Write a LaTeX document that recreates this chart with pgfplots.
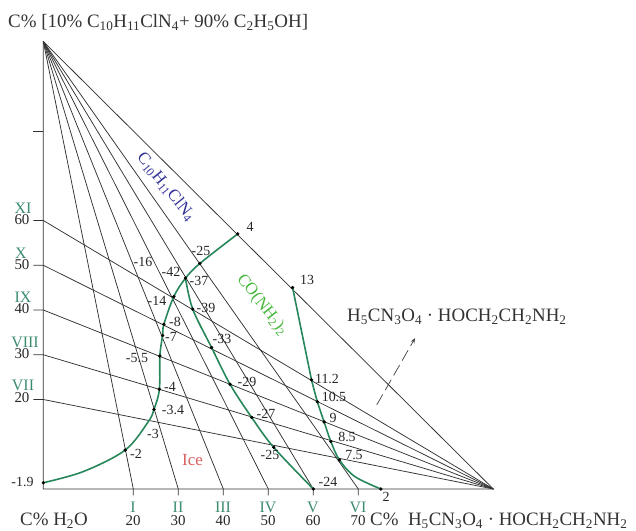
\documentclass[border=0pt]{standalone}
\usepackage{pgfplots}
\pgfplotsset{compat=1.18}
\usetikzlibrary{arrows.meta}
\usepackage{fontspec}
\setmainfont{Liberation Serif}

\definecolor{gridc}{RGB}{50,50,50}
\definecolor{curvec}{RGB}{40,135,90}
\definecolor{romanc}{RGB}{60,140,110}
\definecolor{ureac}{RGB}{70,185,60}
\definecolor{tacc}{RGB}{50,50,150}
\definecolor{icec}{RGB}{215,95,95}

\newcommand{\sub}[1]{\textsubscript{#1}}
\newcommand{\ptfont}{\fontsize{14}{16}\selectfont}
\newcommand{\tkfont}{\fontsize{15}{17}\selectfont}
\newcommand{\rmfont}{\fontsize{16}{18}\selectfont}
\newcommand{\lbfont}{\fontsize{19}{22}\selectfont}

\begin{document}
\begin{tikzpicture}[x=1bp,y=1bp]
\path[use as bounding box] (-43.3,-42) rectangle (592.7,489);
\begin{axis}[
  x=4.5bp, y=4.475bp,
  anchor=origin, at={(0,0)},
  xmin=0, xmax=100, ymin=0, ymax=100,
  hide axis, clip=false,
  gridline/.style={gridc, line width=0.75bp},
  phase/.style={curvec, line width=1.6bp},
]
% triangle frame
\addplot[gridline] coordinates {(0,100) (0,0) (100,0) (0,100)};
% sections I--VI from the alcoholic-solution vertex
\pgfplotsinvokeforeach{20,30,40,50,60,70}{
  \addplot[gridline] coordinates {(0,100) (#1,0) (#1,-1.4)};
}
% sections VII--XI from the salt vertex
\pgfplotsinvokeforeach{20,30,40,50,60}{
  \addplot[gridline] coordinates {(100,0) (0,#1) (-2.2,#1)};
}
\addplot[gridline] coordinates {(0,80) (-2.2,80)};

% ice / C10H11ClN4 boundary
\addplot[phase, smooth, tension=0.55] coordinates {
  (0,1.4) (8.9,3.9) (18.2,8.7) (23.3,15.0) (24.6,17.8)
  (25.8,22.3) (25.9,29.7) (26.5,34.3) (26.8,36.8) (29.0,43.0)
  (31.6,47.1) (34.8,50.4) (43.2,57.0)};
% ice / CO(NH2)2 boundary
\addplot[phase, smooth, tension=0.55] coordinates {
  (31.6,47.1) (33.2,40.2) (37.4,31.6) (41.5,23.4) (46.3,16.0)
  (51.2,9.3) (60,0)};
% CO(NH2)2 / salt boundary
\addplot[phase] coordinates {(55.4,45.0) (59.6,24.4)};
\addplot[phase, smooth, tension=0.55] coordinates {
  (59.6,24.4) (60.9,19.5) (62.4,15.0) (63.9,10.6) (65.8,6.5)
  (69.2,2.8) (75,0)};

% crystallisation points
\addplot[only marks, mark=*, mark size=1.5, black] coordinates {
  (0,1.4) (18.2,8.7) (24.6,17.8) (25.8,22.3) (25.9,29.7) (26.5,34.3)
  (26.8,36.8) (29.0,43.0) (31.6,47.1) (34.8,50.4) (43.2,57.0)
  (33.2,40.2) (37.4,31.6) (41.5,23.4) (46.3,16.0) (51.2,9.3) (60,0)
  (55.4,45.0) (59.6,24.4) (60.9,19.5) (62.4,15.0) (63.9,10.6)
  (65.8,6.5) (75,0)};

% direction arrow towards the salt field
\addplot[black!75, line width=0.7bp, dash pattern=on 12bp off 5bp,
  -{Stealth[length=5bp,width=4bp]}] coordinates {(74.1,18.8) (82.6,33.7)};
\end{axis}

% labels, positioned in page units measured from the top-left corner
\begin{scope}[shift={(-43.3,489)}, yscale=-1]
\tikzset{pl/.style={font=\ptfont, text=black!85, inner sep=0pt},
         tk/.style={font=\tkfont, text=black!85, inner sep=0pt},
         rn/.style={font=\rmfont, text=romanc, inner sep=0pt}}
\node[anchor=base west, inner sep=0, font=\lbfont, text=black!80] at (8,28)
  {C\% [10\% C\sub{10}H\sub{11}ClN\sub{4}+ 90\% C\sub{2}H\sub{5}OH]};
\node[anchor=base west, inner sep=0, font=\lbfont, text=black!80] at (20,525.5)
  {C\% H\sub{2}O};
\node[anchor=base west, inner sep=0, font=\lbfont, text=black!80] at (370,525.5)
  {C\%\ \ H\sub{5}CN\sub{3}O\sub{4} · HOCH\sub{2}CH\sub{2}NH\sub{2}};
\node[anchor=base west, inner sep=0, font=\lbfont, text=black!80] at (347,322)
  {H\sub{5}CN\sub{3}O\sub{4} · HOCH\sub{2}CH\sub{2}NH\sub{2}};

% bottom scale
\foreach \v/\r [count=\i from 0] in {20/I,30/II,40/III,50/IV,60/V,70/VI}{
  \node[tk] at (133+45*\i,520.5) {\v};
  \node[rn] at (133+45*\i,507) {\r};
}
% left scale
\node[tk] at (22,220) {60}; \node[rn] at (23,208) {XI};
\node[tk] at (22,265) {50}; \node[rn] at (21,253) {X};
\node[tk] at (22,309) {40}; \node[rn] at (23,297) {IX};
\node[tk] at (22,354) {30}; \node[rn] at (25,342) {VIII};
\node[tk] at (22,398) {20}; \node[rn] at (23,385) {VII};

% field names
\node[font=\fontsize{17}{19}\selectfont, text=icec] at (192.5,460) {Ice};
\node[font=\fontsize{17}{19}\selectfont, text=ureac, rotate=-52] at (262,305)
  {CO(NH\sub{2})\sub{2}};
\node[font=\fontsize{17}{19}\selectfont, text=tacc, rotate=-51] at (166,187)
  {C\sub{10}H\sub{11}ClN\sub{4}};

% temperatures
\node[pl] at (22.5,482) {-1.9};
\node[pl] at (136,454) {-2};
\node[pl] at (153,434) {-3};
\node[pl] at (173,410) {-3.4};
\node[pl] at (170,387) {-4};
\node[pl] at (137,358) {-5.5};
\node[pl] at (171,337) {-7};
\node[pl] at (175,322) {-8};
\node[pl] at (157,301) {-14};
\node[pl] at (143,262) {-16};
\node[pl] at (171,272) {-42};
\node[pl] at (199,281) {-37};
\node[pl] at (201,251) {-25};
\node[pl] at (250,227) {4};
\node[pl] at (206,308) {-39};
\node[pl] at (222,339) {-33};
\node[pl] at (247,382) {-29};
\node[pl] at (266,414) {-27};
\node[pl] at (270,455) {-25};
\node[pl] at (328,482) {-24};
\node[pl] at (386,497) {2};
\node[pl] at (307,280) {13};
\node[pl] at (327,379) {11.2};
\node[pl] at (334,397) {10.5};
\node[pl] at (333,418) {9};
\node[pl] at (347,437) {8.5};
\node[pl] at (354,455) {7.5};
\end{scope}
\end{tikzpicture}
\end{document}
